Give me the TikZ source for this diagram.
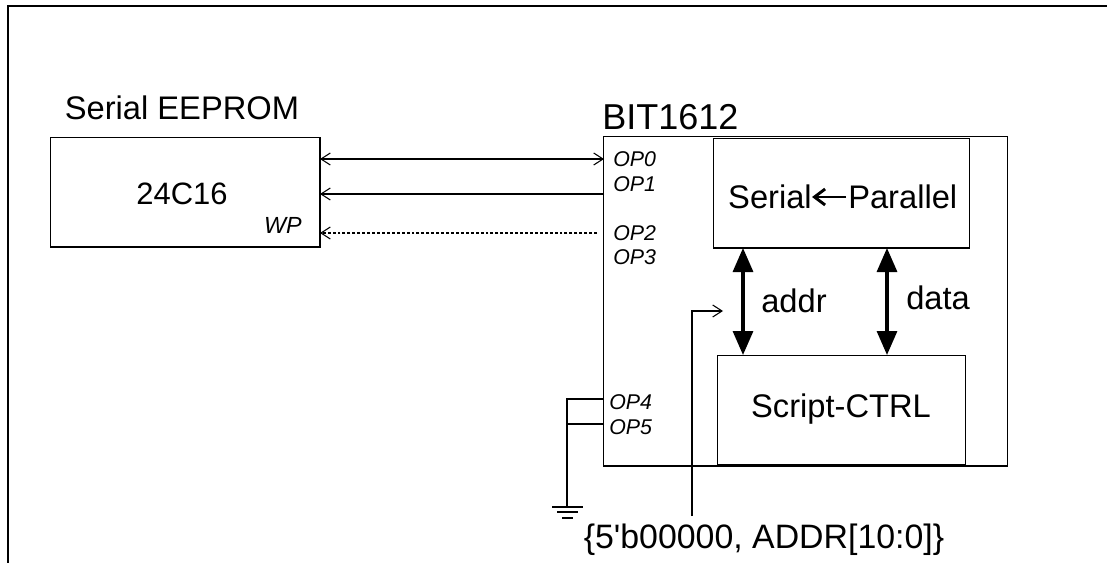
\documentclass[tikz,border=0pt]{standalone}
\usepackage{fontspec}
\setmainfont{Liberation Sans}[Ligatures=TeXOff]
\usetikzlibrary{arrows.meta}
\tikzset{
  px/.style={x=0.75pt,y=-0.75pt},
  box/.style={draw,line width=1.1pt,inner sep=0pt,anchor=north west},
  wire/.style={line width=1.1pt},
  thin wire/.style={line width=0.8pt},
  open/.style={-{Straight Barb[length=7pt,width=9pt,line width=0.8pt]}},
  open both/.style={{Straight Barb[length=7pt,width=9pt,line width=0.8pt]}-{Straight Barb[length=7pt,width=9pt,line width=0.8pt]}},
  fat/.style={line width=2.4pt,{Triangle[length=18pt,width=15pt]}-{Triangle[length=18pt,width=15pt]}},
  big/.style={font=\fontsize{24.5pt}{28pt}\selectfont,inner sep=0pt},
  pin/.style={font=\itshape\fontsize{16pt}{18pt}\selectfont,inner sep=0pt,anchor=west},
}
\begin{document}
\begin{tikzpicture}[px]
\useasboundingbox (0,0) rectangle (1107,563);
\coordinate (fbl) at (8,563);
\coordinate (ftl) at (8,6);
\coordinate (ftr) at (1107,6);
\draw[line width=1.5pt] (fbl) -- (ftl) -- (ftr);
\node[box,minimum width=202pt,minimum height=82pt] (eeprom) at (50,137) {};
\node[big] (ee) at (182,108) {Serial EEPROM};
\node[big,font=\fontsize{23.2pt}{26pt}\selectfont] (c16) at (182,194) {24C16};
\node[pin,anchor=east,font=\itshape\fontsize{17.5pt}{20pt}\selectfont] (wp) at (302,225) {WP};
\node[box,minimum width=303pt,minimum height=247pt] (chip) at (603,136) {};
\node[big,anchor=west,font=\fontsize{27pt}{30pt}\selectfont] (bit) at (602,117) {BIT1612};
\node[box,minimum width=192pt,minimum height=82pt] (sp) at (713,138) {};
\node[box,minimum width=186pt,minimum height=82pt] (sc) at (717,355) {};
\node[big,anchor=east] (spl) at (812,197) {Serial};
\node[big,anchor=west] (spr) at (848,197) {Parallel};
\node[big] (sct) at (841,409) {Script-CTRL};
\node[big,anchor=west] (addr) at (761,301) {addr};
\node[big,anchor=west] (data) at (906,298) {data};
\node[pin] (op0) at (613,159) {OP0};
\node[pin] (op1) at (613,184) {OP1};
\node[pin] (op2) at (613,233) {OP2};
\node[pin] (op3) at (613,257) {OP3};
\node[pin] (op4) at (609,402) {OP4};
\node[pin] (op5) at (609,427) {OP5};
\node[big,font=\fontsize{25.4pt}{28pt}\selectfont] (addrt) at (764,540) {\{5'b00000, ADDR[10:0]\}};
% connectors
\coordinate (e0) at (320,159); \coordinate (c0) at (604,159);
\coordinate (e1) at (320,194); \coordinate (c1) at (604,194);
\coordinate (e2) at (320,233); \coordinate (c2) at (597,233);
\draw[thin wire,open both] (e0) -- (c0);
\draw[wire,open] (c1) -- (e1);
\draw[thin wire,dash pattern=on 2.2pt off 1.5pt,open] (c2) -- (e2);
\coordinate (a1) at (743,248); \coordinate (a2) at (743,355);
\coordinate (d1) at (887,248); \coordinate (d2) at (887,355);
\draw[fat] (a1) -- (a2);
\draw[fat] (d1) -- (d2);
\draw[line width=1.9pt,-{Straight Barb[length=8pt,width=12pt,line width=2.2pt]}] (spr.west) ++(-2,0) -- (spl.east);
\coordinate (t0) at (692,516); \coordinate (t1) at (692,311); \coordinate (t2) at (723,311);
\draw[thin wire,open] (t0) -- (t1) -- (t2);
\coordinate (p4) at (604,399); \coordinate (p5) at (604,424);
\coordinate (g4) at (567,399); \coordinate (g5) at (567,424); \coordinate (gnd) at (567,507);
\draw[wire] (p4) -- (g4) -- (gnd);
\draw[thin wire] (p5) -- (g5);
\draw[wire] (552,507) -- (583,507);
\draw[wire] (557,512) -- (578,512);
\draw[wire] (562,518) -- (573,518);
\end{tikzpicture}
\end{document}
